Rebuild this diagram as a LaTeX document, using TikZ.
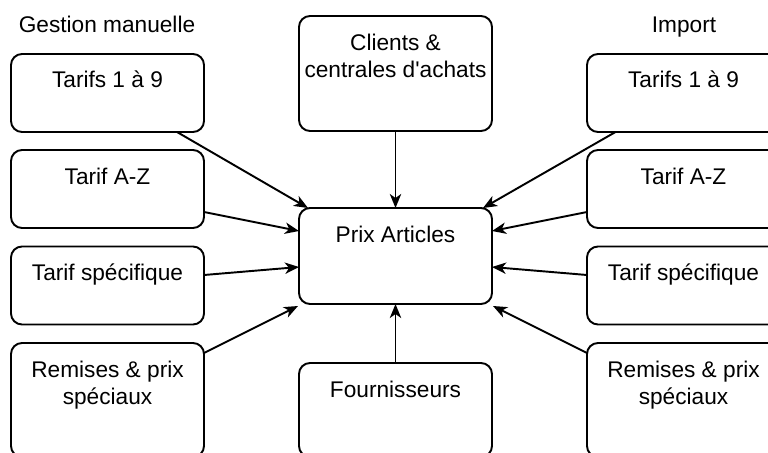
\documentclass[tikz,border=0pt]{standalone}
\usepackage{fontspec}
\setmainfont{Liberation Sans}
\usetikzlibrary{arrows.meta,calc}
\tikzset{
  box/.style={draw=black, rounded corners=8.25pt, line width=1.45pt, minimum width=144.75pt, inner sep=0pt, outer sep=0pt},
  txt/.style={font=\fontsize{17}{20.25}\selectfont, align=center, inner sep=0pt, anchor=base, text=black},
  arr/.style={line width=1.45pt, -{Stealth[length=10.5pt,width=8.5pt,inset=3pt]}}
}
\begin{document}
\begin{tikzpicture}[x=0.75pt,y=-0.75pt]
\useasboundingbox (0,0) rectangle (768,453);
\clip (0,0) rectangle (768,453);
% headings
\node[txt] (hl) at (107,33) {Gestion manuelle};
\node[txt] (hr) at (684,33) {Import};
% left column
\node[box, minimum height=58.5pt] (L1) at (107.5,93) {};
\node[box, minimum height=58.5pt] (L2) at (107.5,189) {};
\node[box, minimum height=58.5pt] (L3) at (107.5,285.5) {};
\node[box, minimum height=85.5pt] (L4) at (107.5,400) {};
% right column
\node[box, minimum height=58.5pt] (R1) at (683.5,93) {};
\node[box, minimum height=58.5pt] (R2) at (683.5,189) {};
\node[box, minimum height=58.5pt] (R3) at (683.5,285.5) {};
\node[box, minimum height=85.5pt] (R4) at (683.5,400) {};
% centre column
\node[box, minimum height=86.25pt] (C) at (395.5,73.5) {};
\node[box, minimum height=72pt] (P) at (395.5,256) {};
\node[box, minimum height=70.5pt] (F) at (395.5,410) {};
% texts (base anchor = last line)
\node[txt] (L1t) at ($(L1.north)+(0,34)$) {Tarifs 1 à 9};
\node[txt] (L2t) at ($(L2.north)+(0,34)$) {Tarif A-Z};
\node[txt] (L3t) at ($(L3.north)+(0,34)$) {Tarif spécifique};
\node[txt] (L4t) at ($(L4.north)+(0,61)$) {Remises \& prix\\spéciaux};
\node[txt] (R1t) at ($(R1.north)+(0,34)$) {Tarifs 1 à 9};
\node[txt] (R2t) at ($(R2.north)+(0,34)$) {Tarif A-Z};
\node[txt] (R3t) at ($(R3.north)+(0,34)$) {Tarif spécifique};
\node[txt] (R4t) at ($(R4.north)+(0,61)$) {Remises \& prix\\spéciaux};
\node[txt] (Ct) at ($(C.north)+(0,62)$) {Clients \&\\centrales d\textquotesingle achats};
\node[txt] (Pt) at ($(P.north)+(0,34)$) {Prix Articles};
\node[txt] (Ft) at ($(F.north)+(0,34)$) {Fournisseurs};
% connectors
\draw[arr] ($(L1.south)+(69.5,0)$) -- ($(P.north west)+(9,0)$);
\draw[arr] ($(L2.east)+(0,23)$) -- ($(P.west)+(0,-25)$);
\draw[arr] ($(L3.east)+(0,-10.5)$) -- ($(P.west)+(0,11)$);
\draw[arr] ($(L4.north east)+(0,10)$) -- ($(P.south west)+(-1,2)$);
\draw[arr] ($(R1.south)+(-68,0)$) -- ($(P.north east)+(-9,0)$);
\draw[arr] ($(R2.west)+(0,23)$) -- ($(P.east)+(0,-25)$);
\draw[arr] ($(R3.west)+(0,-10.5)$) -- ($(P.east)+(0,11)$);
\draw[arr] ($(R4.north west)+(0,10)$) -- ($(P.south east)+(1,2)$);
\draw[arr] (C.south) -- (P.north);
\draw[arr] (F.north) -- (P.south);
\end{tikzpicture}
\end{document}
